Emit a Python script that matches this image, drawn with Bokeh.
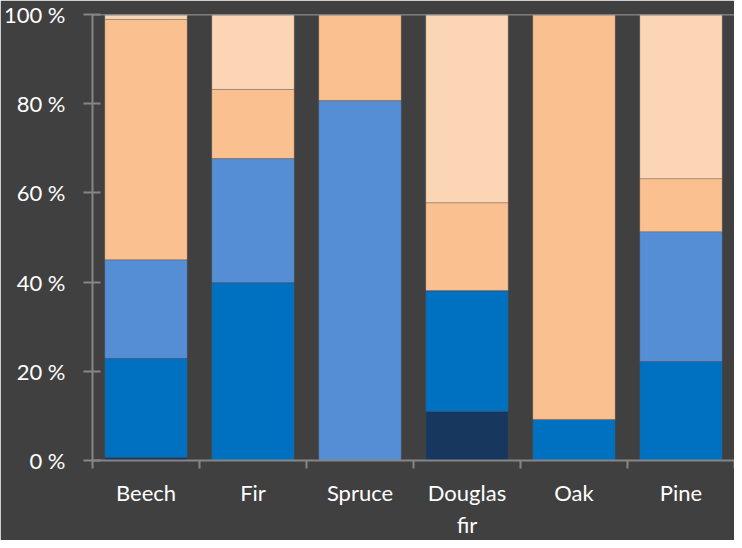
from bokeh.plotting import figure
from bokeh.models import Range1d, FixedTicker, Span, ColumnDataSource
from bokeh.embed import file_html
from bokeh.resources import INLINE

species = ["Beech", "Fir", "Spruce", "Douglas\nfir", "Oak", "Pine"]
s1 = [0.7, 0.0, 0.0, 11.0, 0.0, 0.0]       # dark navy
s2 = [22.2, 39.9, 0.0, 27.1, 9.2, 22.2]    # blue
s3 = [22.1, 27.8, 80.7, 0.0, 0.0, 29.1]    # light blue
s4 = [53.9, 15.5, 19.3, 19.7, 90.8, 11.9]  # orange
s5 = [1.1, 16.8, 0.0, 42.2, 0.0, 36.8]     # light orange
y_ticks = [0, 20, 40, 60, 80, 100]

colors = ["#17375E", "#0070C0", "#558ED5", "#FAC090", "#FCD5B5"]
names = ["s1", "s2", "s3", "s4", "s5"]
xs = [i + 0.5 for i in range(len(species))]
src = ColumnDataSource(dict(x=xs, s1=s1, s2=s2, s3=s3, s4=s4, s5=s5))

p = figure(frame_width=642, frame_height=446, output_backend="svg", toolbar_location=None,
           x_range=Range1d(0, len(species)), y_range=Range1d(0, 100),
           min_border_left=92, min_border_right=0, min_border_top=14, min_border_bottom=80)
p.background_fill_color = "#404040"
p.border_fill_color = "#404040"
p.outline_line_color = None
p.grid.visible = False

p.vbar_stack(names, x="x", width=0.77, source=src, color=colors,
             line_color="#555555", line_alpha=0.4, line_width=0.8)

p.add_layout(Span(location=100, dimension="width", line_color="#868686", line_width=2))

axis_color = "#868686"
font = "Lato"

xa = p.xaxis[0]
xa.ticker = FixedTicker(ticks=xs, minor_ticks=list(range(len(species) + 1)))
xa.major_label_overrides = {x: s for x, s in zip(xs, species)}
xa.major_tick_out = 0
xa.major_tick_in = 0
xa.minor_tick_out = 8
xa.minor_tick_in = 0
xa.minor_tick_line_color = axis_color
xa.minor_tick_line_width = 2
xa.axis_line_color = axis_color
xa.axis_line_width = 2
xa.major_label_standoff = 10
xa.major_label_text_font = font
xa.major_label_text_font_size = "22px"
xa.major_label_text_color = "#FFFFFF"

ya = p.yaxis[0]
ya.ticker = FixedTicker(ticks=y_ticks)
ya.major_label_overrides = {t: f"{t} %" for t in y_ticks}
ya.major_tick_out = 9
ya.major_tick_in = 8
ya.minor_tick_line_color = None
ya.major_tick_line_color = axis_color
ya.major_tick_line_width = 2
ya.axis_line_color = axis_color
ya.axis_line_width = 2
ya.major_label_standoff = 18
ya.major_label_text_font = font
ya.major_label_text_font_size = "22px"
ya.major_label_text_color = "#FFFFFF"

open("out.html", "w").write(file_html(p, INLINE))
